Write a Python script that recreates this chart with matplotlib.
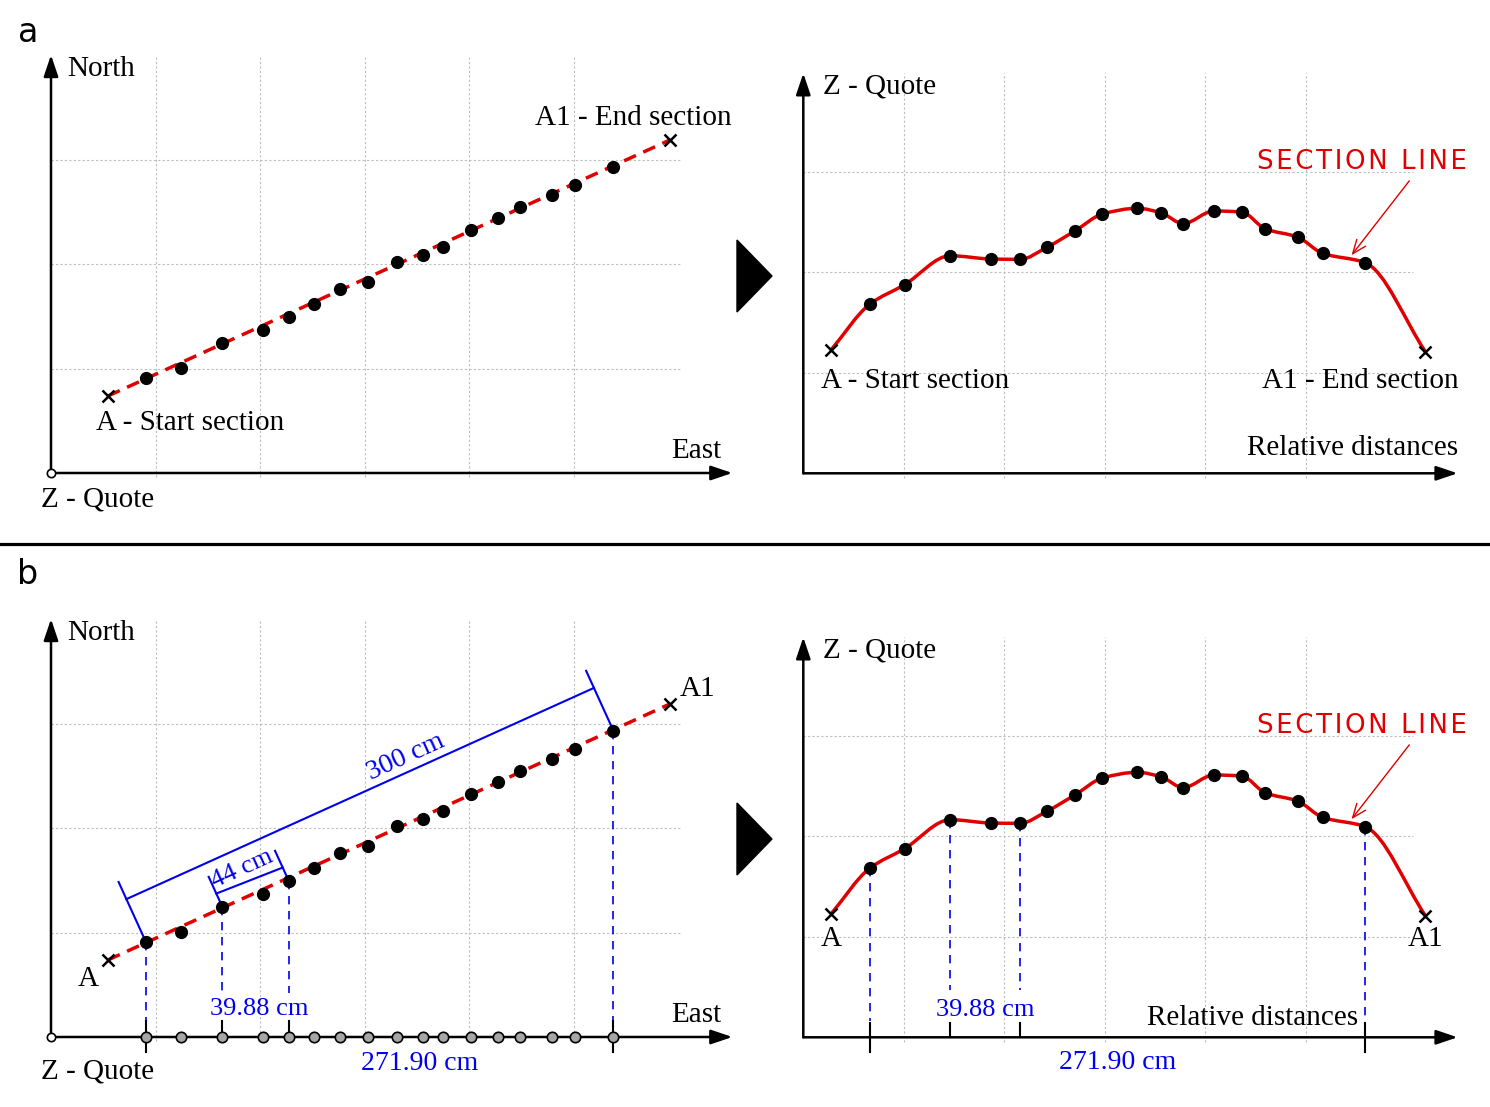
import numpy as np
import matplotlib.pyplot as plt
from matplotlib.path import Path
from matplotlib.patches import PathPatch, Polygon

W, H = 1490, 1107
SERIF = 'Liberation Serif'
RED = '#e00000'
BLUE = '#0000ee'
GRID = '#bdbdbd'

# plan view, grid units (east, north) of the sampled points
east = [0.908, 1.243, 1.640, 2.024, 2.275, 2.514, 2.763, 3.031, 3.314,
        3.560, 3.748, 4.015, 4.279, 4.484, 4.790, 5.015, 5.382]
north = [0.910, 1.006, 1.245, 1.370, 1.494, 1.619, 1.762, 1.829, 2.021,
         2.088, 2.165, 2.328, 2.443, 2.548, 2.663, 2.759, 2.931]
start_en = [0.545, 0.737]   # A
end_en = [5.923, 3.187]     # A1

# section profile: relative distance vs quote
dist = [0.661, 1.008, 1.463, 1.871, 2.157, 2.424, 2.706, 2.977, 3.324,
        3.564, 3.779, 4.085, 4.361, 4.599, 4.918, 5.167, 5.590]
quote = [1.682, 1.877, 2.165, 2.132, 2.129, 2.249, 2.414, 2.580, 2.637,
         2.590, 2.484, 2.610, 2.600, 2.431, 2.351, 2.189, 2.096]
start_dz = [0.276, 1.227]
end_dz = [6.190, 1.210]

# measurements shown in panel b (indices into the point lists)
long_span = (0, 16)
short_span = (2, 4)
long_label = '300 cm'
short_label = '44 cm'
proj_short = '39.88 cm'
proj_long = '271.90 cm'

fig = plt.figure(figsize=(W / 100, H / 100), dpi=100)


def panel(ox, oy, unit, xlim, ylim):
    x0 = ox + xlim[0] * unit
    x1 = ox + xlim[1] * unit
    ytop = oy - ylim[1] * unit
    ybot = oy - ylim[0] * unit
    ax = fig.add_axes([x0 / W, 1 - ybot / H, (x1 - x0) / W, (ybot - ytop) / H])
    ax.set_xlim(xlim)
    ax.set_ylim(ylim)
    ax.axis('off')
    ax.patch.set_alpha(0)
    return ax


def axis_arrow(ax, tip):
    ax.annotate('', xy=tip, xytext=(0, 0),
                arrowprops=dict(arrowstyle='-|>,head_length=0.65,head_width=0.22',
                                mutation_scale=20, lw=1.8, color='k',
                                shrinkA=0, shrinkB=0))


def label(ax, x, y, s, **kw):
    opts = dict(fontsize=21, family=SERIF, color='k', va='center', ha='left')
    opts.update(kw)
    ax.text(x, y, s, **opts)


def smooth_path(xs, ys):
    # monotone cubic (pchip slopes) written as bezier segments
    x = np.asarray(xs, float)
    y = np.asarray(ys, float)
    h = np.diff(x)
    s = np.diff(y) / h
    m = np.zeros_like(x)
    for i in range(1, len(x) - 1):
        if s[i - 1] * s[i] > 0:
            w1 = 2 * h[i] + h[i - 1]
            w2 = h[i] + 2 * h[i - 1]
            m[i] = (w1 + w2) / (w1 / s[i - 1] + w2 / s[i])
    m[0] = s[0]
    m[-1] = s[-1]
    verts, codes = [(x[0], y[0])], [Path.MOVETO]
    for i in range(len(x) - 1):
        verts += [(x[i] + h[i] / 3, y[i] + m[i] * h[i] / 3),
                  (x[i + 1] - h[i] / 3, y[i + 1] - m[i + 1] * h[i] / 3),
                  (x[i + 1], y[i + 1])]
        codes += [Path.CURVE4] * 3
    return Path(verts, codes)


def plan_view(ax, part_b):
    for gx in range(1, 6):
        ax.plot([gx, gx], [-0.04, 3.98], color=GRID, lw=0.8, dashes=(2, 2), zorder=0)
    for gy in range(1, 4):
        ax.plot([0, 6.02], [gy, gy], color=GRID, lw=0.8, dashes=(2, 2), zorder=0)
    axis_arrow(ax, (6.52, 0))
    axis_arrow(ax, (0, 4.0))
    ax.plot(0, 0, 'o', mfc='white', mec='k', ms=6, mew=1.2, zorder=6)
    ax.plot([start_en[0], end_en[0]], [start_en[1], end_en[1]], color=RED,
            lw=2.5, dashes=(3.75, 2.3), zorder=2)
    ax.plot(east, north, 'o', color='k', ms=8.5, zorder=4)
    ax.plot([start_en[0], end_en[0]], [start_en[1], end_en[1]], 'x', color='k',
            ms=9, mew=1.8, zorder=4)
    label(ax, 0.153, 3.865, 'North')
    label(ax, 6.17, 0.209, 'East', ha='center')
    if not part_b:
        label(ax, -0.096, -0.25, 'Z - Quote')
        label(ax, 0.43, 0.477, 'A - Start section')
        label(ax, 6.517, 3.396, 'A1 - End section', ha='right')
        return
    label(ax, -0.096, -0.327, 'Z - Quote')
    label(ax, 0.354, 0.554, 'A', ha='center')
    label(ax, 6.02, 3.329, 'A1')

    P = np.column_stack([east, north])
    d = np.subtract(end_en, start_en)
    d = d / np.hypot(*d)
    n = np.array([-d[1], d[0]])
    ang = np.degrees(np.arctan2(d[1], d[0]))

    def dimension(i, j, off, ext, text, frac, size, gap):
        a, b = P[i], P[j]
        for p in (a, b):
            q = p + ext * n
            ax.plot([p[0], q[0]], [p[1], q[1]], color=BLUE, lw=1.5, zorder=3)
        a2, b2 = a + off * n, b + off * n
        ax.plot([a2[0], b2[0]], [a2[1], b2[1]], color=BLUE, lw=1.5, zorder=3)
        c = a2 + frac * (b2 - a2) + gap * n
        ax.text(c[0], c[1], text, rotation=ang, rotation_mode='anchor',
                ha='center', va='bottom', fontsize=size, family=SERIF, color=BLUE)

    dimension(*long_span, 0.45, 0.63, long_label, 0.61, 20, 0.02)
    dimension(*short_span, 0.14, 0.316, short_label, 0.47, 19, 0.02)

    # projections on the east axis
    ax.plot(east, np.zeros(len(east)), 'o', mfc='#a6a6a6', mec='k', ms=7.5,
            mew=1.2, zorder=5)
    for idx, stop in zip(long_span + short_span, [0.16, 0.16, 0.42, 0.42]):
        ax.plot([east[idx], east[idx]], [north[idx], stop], color=BLUE, lw=1.2,
                dashes=(5, 4), zorder=1)
    for idx in long_span:
        ax.plot([east[idx], east[idx]], [-0.144, 0.153], color='k', lw=1.5, zorder=4)
    for idx in short_span:
        ax.plot([east[idx], east[idx]], [0, 0.153], color='k', lw=1.5, zorder=4)
    label(ax, (east[2] + east[4]) / 2 + 0.04, 0.27, proj_short, ha='center',
          color=BLUE, fontsize=19)
    label(ax, 3.53, -0.25, proj_long, ha='center', color=BLUE, fontsize=20)


def profile_view(ax, part_b):
    for gx in range(1, 6):
        ax.plot([gx, gx], [-0.05, 3.98], color=GRID, lw=0.8, dashes=(2, 2), zorder=0)
    for gy in range(1, 4):
        ax.plot([0, 6.07], [gy, gy], color=GRID, lw=0.8, dashes=(2, 2), zorder=0)
    axis_arrow(ax, (6.51, 0))
    axis_arrow(ax, (0, 3.98))
    xs = [start_dz[0]] + dist + [end_dz[0]]
    ys = [start_dz[1]] + quote + [end_dz[1]]
    ax.add_patch(PathPatch(smooth_path(xs, ys), fc='none', ec=RED, lw=2.5, zorder=2))
    ax.plot(dist, quote, 'o', color='k', ms=8.5, zorder=4)
    ax.plot([start_dz[0], end_dz[0]], [start_dz[1], end_dz[1]], 'x', color='k',
            ms=9, mew=1.8, zorder=4)
    label(ax, 0.194, 3.85, 'Z - Quote')
    ax.text(5.56, 3.10, 'S\u200aE\u200aC\u200aT\u200aI\u200aO\u200aN\u200a \u200aL\u200aI\u200aN\u200aE',
            fontsize=18.7, color=RED, ha='center', va='center', family='DejaVu Sans')
    ax.annotate('', xy=(5.455, 2.17), xytext=(6.03, 2.91),
                arrowprops=dict(arrowstyle='->,head_length=0.5,head_width=0.2',
                                mutation_scale=20, lw=1.0, color=RED,
                                shrinkA=0, shrinkB=0))
    if not part_b:
        label(ax, 0.18, 0.918, 'A - Start section')
        label(ax, 6.52, 0.918, 'A1 - End section', ha='right')
        label(ax, 6.52, 0.25, 'Relative distances', ha='right')
        return
    label(ax, start_dz[0], 0.978, 'A', ha='center')
    label(ax, end_dz[0], 0.978, 'A1', ha='center')
    label(ax, 4.475, 0.19, 'Relative distances', ha='center')
    for idx, stop in zip(long_span + short_span, [0.16, 0.16, 0.47, 0.47]):
        ax.plot([dist[idx], dist[idx]], [quote[idx], stop], color=BLUE, lw=1.2,
                dashes=(5, 4), zorder=1)
    for idx in long_span:
        ax.plot([dist[idx], dist[idx]], [-0.146, 0.142], color='k', lw=1.5, zorder=4)
    for idx in short_span:
        ax.plot([dist[idx], dist[idx]], [0, 0.142], color='k', lw=1.5, zorder=4)
    label(ax, (dist[2] + dist[4]) / 2, 0.27, proj_short, ha='center',
          color=BLUE, fontsize=19)
    label(ax, (dist[0] + dist[16]) / 2, -0.25, proj_long, ha='center',
          color=BLUE, fontsize=20)


# decoration layer in pixel coordinates
deco = fig.add_axes([0, 0, 1, 1])
deco.set_xlim(0, W)
deco.set_ylim(H, 0)
deco.axis('off')
deco.plot([0, 1488], [543.5, 543.5], color='k', lw=2.3)
for cy in (276, 839):
    deco.add_patch(Polygon([[737, cy - 36], [772, cy], [737, cy + 36]], closed=True,
                           color='k'))
deco.text(28, 32, 'a', fontsize=24, ha='center', va='center')
deco.text(28, 575, 'b', fontsize=24, ha='center', va='center')

ax_a1 = panel(51, 473, 104.5, (-0.45, 6.8), (-0.5, 4.25))
plan_view(ax_a1, False)
ax_a2 = panel(803.3, 473.3, 100.5, (-0.28, 6.7), (-0.5, 4.2))
profile_view(ax_a2, False)
ax_b1 = panel(51, 1037, 104.5, (-0.45, 6.8), (-0.6, 4.25))
plan_view(ax_b1, True)
ax_b2 = panel(803.3, 1037.3, 100.5, (-0.28, 6.7), (-0.6, 4.2))
profile_view(ax_b2, True)

fig.savefig('out.png', dpi=100)
